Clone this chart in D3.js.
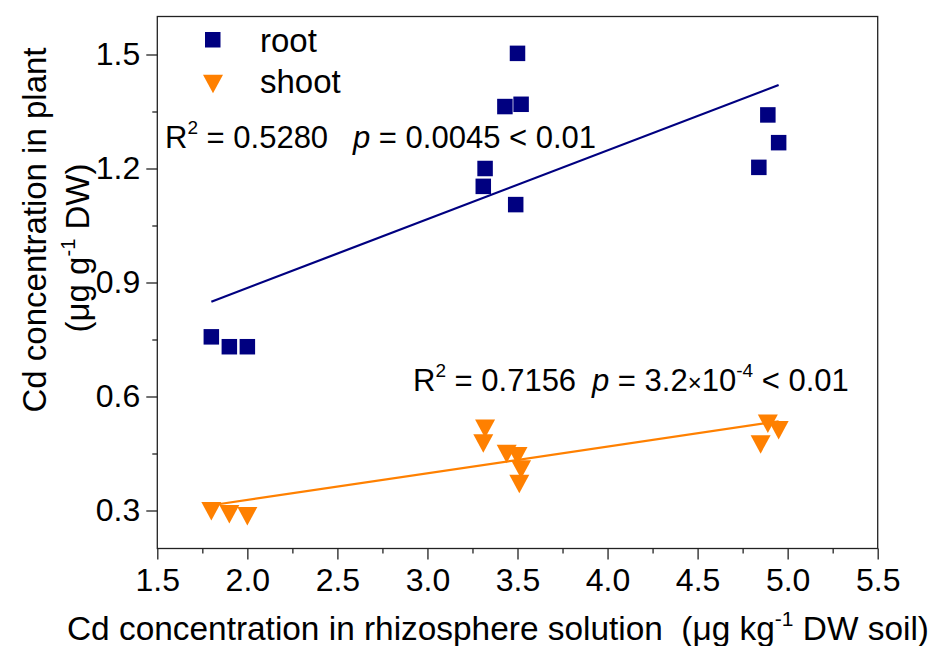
<!DOCTYPE html>
<html>
<head>
  <meta charset="utf-8">
  <script src="https://cdn.jsdelivr.net/npm/d3@7"></script>
  <style>
    body { margin: 0; background: #fff; }
    svg { display: block; }
    text { font-family: Arial, "Liberation Sans", sans-serif; fill: #000; }
    .axis path, .axis line { stroke: #222; stroke-width: 1.3px; }
    .axis text { font-size: 32px; }
  </style>
</head>
<body>
<script>
  // data
  const rootX = [1.80, 1.90, 2.00, 3.31, 3.32, 3.43, 3.50, 3.52, 3.49, 4.84, 4.89, 4.95];
  const rootY = [0.757, 0.731, 0.731, 1.153, 1.200, 1.363, 1.503, 1.369, 1.105, 1.203, 1.341, 1.268];
  const shootX = [1.80, 1.90, 2.00, 3.32, 3.31, 3.44, 3.50, 3.52, 3.51, 4.89, 4.95, 4.85];
  const shootY = [0.298, 0.290, 0.285, 0.515, 0.476, 0.449, 0.443, 0.408, 0.370, 0.528, 0.511, 0.474];
  // fitted lines: [intercept, slope]
  const rootFit = [0.5237, 0.181];
  const shootFit = [0.1877, 0.0701];

  const xTicks = [1.5, 2.0, 2.5, 3.0, 3.5, 4.0, 4.5, 5.0, 5.5];
  const xMinor = [1.75, 2.25, 2.75, 3.25, 3.75, 4.25, 4.75, 5.25];
  const yTicks = [0.3, 0.6, 0.9, 1.2, 1.5];
  const yMinor = [0.45, 0.75, 1.05, 1.35];

  const w = 941, h = 646;
  const padL = 157.3, padR = 877.7, padT = 16.5, padB = 548.5;

  const svg = d3.select("body").append("svg")
    .attr("width", w)
    .attr("height", h);

  const x = d3.scaleLinear().domain([1.5, 5.5]).range([padL, padR]);
  const y = d3.scaleLinear().domain([0.2, 1.6]).range([padB, padT]);

  // frame
  svg.append("rect")
    .attr("x", padL).attr("y", padT)
    .attr("width", padR - padL).attr("height", padB - padT)
    .attr("fill", "none").attr("stroke", "#222").attr("stroke-width", 1.3);

  // axes
  svg.append("g").attr("class", "axis")
    .attr("transform", `translate(0,${padB})`)
    .call(d3.axisBottom(x).tickValues(xTicks).tickFormat(d3.format(".1f"))
      .tickSize(11).tickSizeOuter(0).tickPadding(9));
  svg.append("g").attr("class", "axis")
    .attr("transform", `translate(0,${padB})`)
    .call(d3.axisBottom(x).tickValues(xMinor).tickFormat("").tickSize(5).tickSizeOuter(0));

  svg.append("g").attr("class", "axis")
    .attr("transform", `translate(${padL},0)`)
    .call(d3.axisLeft(y).tickValues(yTicks).tickFormat(d3.format(".1f"))
      .tickSize(11).tickSizeOuter(0).tickPadding(6));
  svg.append("g").attr("class", "axis")
    .attr("transform", `translate(${padL},0)`)
    .call(d3.axisLeft(y).tickValues(yMinor).tickFormat("").tickSize(5).tickSizeOuter(0));

  svg.selectAll(".axis .domain").remove();

  // regression lines
  function fitLine(xs, fit, color) {
    const ext = d3.extent(xs);
    svg.append("path")
      .datum(ext)
      .attr("fill", "none")
      .attr("stroke", color)
      .attr("stroke-width", 2.2)
      .attr("d", d3.line()
        .x(d => x(d))
        .y(d => y(fit[0] + fit[1] * d)));
  }
  fitLine(rootX, rootFit, "#000080");
  fitLine(shootX, shootFit, "#FF8000");

  // markers
  const sq = 15.5;
  svg.selectAll("rect.root")
    .data(rootX)
    .enter()
    .append("rect")
    .attr("class", "root")
    .attr("x", (d, i) => x(d) - sq / 2)
    .attr("y", (d, i) => y(rootY[i]) - sq / 2)
    .attr("width", sq)
    .attr("height", sq)
    .attr("fill", "#000080");

  const triW = 20, triH = 18.5;
  const tri = `M${-triW / 2},${-triH / 2}L${triW / 2},${-triH / 2}L0,${triH / 2}Z`;
  svg.selectAll("path.shoot")
    .data(shootX)
    .enter()
    .append("path")
    .attr("class", "shoot")
    .attr("d", tri)
    .attr("transform", (d, i) => `translate(${x(d)},${y(shootY[i])})`)
    .attr("fill", "#FF8000");

  // legend
  svg.append("rect")
    .attr("x", 205).attr("y", 32)
    .attr("width", sq).attr("height", sq)
    .attr("fill", "#000080");
  svg.append("path")
    .attr("d", tri)
    .attr("transform", "translate(213,84)")
    .attr("fill", "#FF8000");
  svg.append("text").attr("x", 260).attr("y", 52).attr("font-size", 33).text("root");
  svg.append("text").attr("x", 260).attr("y", 93).attr("font-size", 33).text("shoot");

  // annotations
  function rText(tx, ty, val) {
    const t = svg.append("text").attr("x", tx).attr("y", ty).attr("font-size", 31);
    t.append("tspan").text("R");
    t.append("tspan").attr("font-size", 19).attr("dy", -14).text("2");
    t.append("tspan").attr("dy", 14).text(" = " + val);
  }
  rText(165, 148, "0.5280");
  const p1 = svg.append("text").attr("x", 353).attr("y", 148).attr("font-size", 31);
  p1.append("tspan").attr("font-style", "italic").text("p");
  p1.append("tspan").text(" = 0.0045 < 0.01");

  rText(413, 391, "0.7156");
  const p2 = svg.append("text").attr("x", 592).attr("y", 391).attr("font-size", 31);
  p2.append("tspan").attr("font-style", "italic").text("p");
  p2.append("tspan").text(" = 3.2");
  p2.append("tspan").attr("font-size", 24).text("×");
  p2.append("tspan").text("10");
  p2.append("tspan").attr("font-size", 19).attr("dy", -14).text("-4");
  p2.append("tspan").attr("dy", 14).text(" < 0.01");

  // axis titles
  const xt = svg.append("text")
    .attr("x", 67).attr("y", 640).attr("font-size", 33.4)
    .style("white-space", "pre");
  xt.append("tspan").text("Cd concentration in rhizosphere solution  (μg kg");
  xt.append("tspan").attr("font-size", 21).attr("dy", -14).text("-1");
  xt.append("tspan").attr("dy", 14).text(" DW soil)");

  svg.append("text")
    .attr("transform", "translate(46,230) rotate(-90)")
    .attr("text-anchor", "middle")
    .attr("font-size", 33)
    .text("Cd concentration in plant");
  const yt2 = svg.append("text")
    .attr("transform", "translate(89,248) rotate(-90)")
    .attr("text-anchor", "middle")
    .attr("font-size", 33);
  yt2.append("tspan").text("(μg g");
  yt2.append("tspan").attr("font-size", 20).attr("dy", -14).text("-1");
  yt2.append("tspan").attr("dy", 14).text(" DW)");
</script>
</body>
</html>
